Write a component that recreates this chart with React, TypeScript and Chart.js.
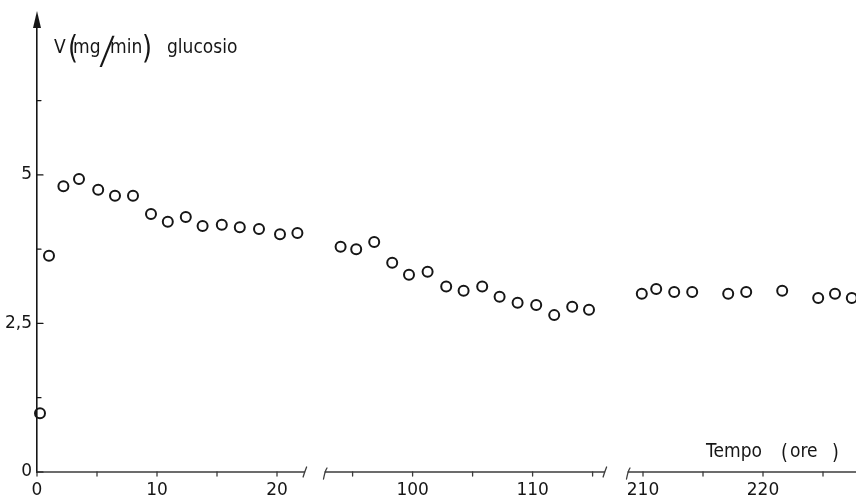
import React, { useEffect, useRef } from 'react';
import { Chart, registerables } from 'chart.js';

Chart.register(...registerables);

// ---- data (time in hours, glucose rate in mg/min) ----
const earlyHours = [0.25, 1.0, 2.2, 3.5, 5.1, 6.5, 8.0, 9.5, 10.9, 12.4, 13.8, 15.4, 16.9, 18.5, 20.25, 21.7];
const earlyValues = [0.99, 3.64, 4.81, 4.93, 4.75, 4.65, 4.65, 4.34, 4.21, 4.29, 4.14, 4.16, 4.12, 4.09, 4.0, 4.02];

const midHours = [94.0, 95.3, 96.8, 98.3, 99.7, 101.25, 102.8, 104.25, 105.8, 107.25, 108.75, 110.3, 111.8, 113.3, 114.7];
const midValues = [3.79, 3.75, 3.87, 3.52, 3.32, 3.37, 3.12, 3.05, 3.12, 2.95, 2.85, 2.81, 2.64, 2.78, 2.73];

const lateHours = [209.9, 211.1, 212.6, 214.1, 217.1, 218.6, 221.6, 224.6, 226.0, 227.4];
const lateValues = [3.0, 3.08, 3.03, 3.03, 3.0, 3.03, 3.05, 2.93, 3.0, 2.93];

// ---- axis ticks ----
const xTickLabels = [0, 10, 20, 100, 110, 210, 220];
const xMinorTicks = [5, 15, 95, 105, 115, 215, 225];
const yTickLabels = [0, 2.5, 5];
const yMinorTicks = [1.25, 3.75, 6.25];

// broken time axis: each piece of real time and where it starts on the compressed axis
const axisSegments = [
  { from: 0, to: 22.3, offset: 0 },
  { from: 92.7, to: 116, offset: 24 },
  { from: 208.75, to: 227.75, offset: 49.25 },
];
const xMax = 68.25;
const yMax = 7.64;

const compress = (t: number) => {
  for (const s of axisSegments) {
    if (t >= s.from - 1e-9 && t <= s.to + 1e-9) return s.offset + (t - s.from);
  }
  return NaN;
};
const decompress = (c: number) => {
  for (const s of axisSegments) {
    const len = s.to - s.from;
    if (c >= s.offset - 1e-6 && c <= s.offset + len + 1e-6) return s.from + (c - s.offset);
  }
  return NaN;
};

const FONT = '"DejaVu Sans", sans-serif';
const INK = '#161616';

const toPoints = (hours: number[], values: number[]) =>
  hours.map((h, i) => ({ x: compress(h), y: values[i] }));

const axisPlugin = {
  id: 'brokenAxes',
  afterDraw(chart: any) {
    const { ctx, chartArea, scales } = chart;
    const x = scales.x;
    const y = scales.y;
    const y0 = y.getPixelForValue(0);
    const left = chartArea.left;
    const top = chartArea.top;
    ctx.save();
    ctx.lineCap = 'round';

    // x axis pieces with break marks
    ctx.strokeStyle = '#3c3c3c';
    ctx.lineWidth = 1.3;
    axisSegments.forEach((s, i) => {
      const a = x.getPixelForValue(s.offset);
      const b = x.getPixelForValue(s.offset + (s.to - s.from));
      ctx.beginPath();
      ctx.moveTo(a, y0);
      ctx.lineTo(b, y0);
      ctx.stroke();
      if (i < axisSegments.length - 1) {
        ctx.beginPath();
        ctx.moveTo(b - 1.5, y0 + 5);
        ctx.quadraticCurveTo(b, y0, b + 2, y0 - 5);
        ctx.stroke();
      }
      if (i > 0) {
        ctx.beginPath();
        ctx.moveTo(a - 1.5, y0 + 7);
        ctx.quadraticCurveTo(a, y0 - 1, a + 2, y0 - 4);
        ctx.stroke();
      }
    });
    [...xTickLabels, ...xMinorTicks].forEach((t) => {
      const px = x.getPixelForValue(compress(t));
      ctx.beginPath();
      ctx.moveTo(px, y0);
      ctx.lineTo(px, y0 + 4);
      ctx.stroke();
    });

    // y ticks (inside)
    ctx.strokeStyle = INK;
    ctx.lineWidth = 1.2;
    [...yTickLabels, ...yMinorTicks].forEach((v) => {
      const py = y.getPixelForValue(v);
      ctx.beginPath();
      ctx.moveTo(left, py);
      ctx.lineTo(left + (yTickLabels.includes(v) ? 6 : 4), py);
      ctx.stroke();
    });

    // arrow head on y axis
    ctx.fillStyle = INK;
    ctx.beginPath();
    ctx.moveTo(left, top - 7);
    ctx.lineTo(left - 4, top + 10);
    ctx.lineTo(left + 4, top + 10);
    ctx.closePath();
    ctx.fill();

    // axis titles (slightly condensed lettering)
    ctx.fillStyle = INK;
    ctx.textBaseline = 'alphabetic';
    ctx.textAlign = 'left';
    const drawAt = (parts: { t: string; font: string; x: number; base: number; sx?: number }[]) => {
      parts.forEach((p) => {
        const sx = p.sx ?? 0.9;
        ctx.save();
        ctx.translate(p.x, p.base);
        ctx.scale(sx, 1);
        ctx.font = p.font;
        ctx.fillText(p.t, 0, 0);
        ctx.restore();
      });
    };
    const f19 = `19px ${FONT}`;
    const paren = `32px ${FONT}`;
    const thinSlash = '200 36px Inter, "Liberation Sans", sans-serif';
    drawAt([
      { t: 'V', font: f19, x: 54, base: 53 },
      { t: '(', font: paren, x: 68, base: 58, sx: 0.8 },
      { t: 'mg', font: f19, x: 73, base: 53 },
      { t: '/', font: thinSlash, x: 98, base: 63, sx: 1.5 },
      { t: 'min', font: f19, x: 110, base: 53 },
      { t: ')', font: paren, x: 142, base: 58, sx: 0.8 },
      { t: 'glucosio', font: f19, x: 167, base: 53 },
      { t: 'Tempo', font: f19, x: 706, base: 457 },
      { t: '(', font: `22px ${FONT}`, x: 781, base: 459, sx: 0.8 },
      { t: 'ore', font: f19, x: 790, base: 457 },
      { t: ')', font: `22px ${FONT}`, x: 832, base: 459, sx: 0.8 },
    ]);
    ctx.restore();
  },
};

export default function App() {
  const canvasRef = useRef<HTMLCanvasElement | null>(null);

  useEffect(() => {
    document.body.style.margin = '0';
    const canvas = canvasRef.current;
    if (!canvas) return;
    const pointStyle = {
      pointStyle: 'circle' as const,
      pointRadius: 5,
      pointHoverRadius: 5,
      pointBorderWidth: 2,
      pointBorderColor: INK,
      pointBackgroundColor: 'rgba(255,255,255,0)',
      showLine: false,
      clip: false as const,
    };
    const chart = new Chart(canvas, {
      type: 'scatter',
      data: {
        datasets: [
          { label: 'early', data: toPoints(earlyHours, earlyValues), ...pointStyle },
          { label: 'mid', data: toPoints(midHours, midValues), ...pointStyle },
          { label: 'late', data: toPoints(lateHours, lateValues), ...pointStyle },
        ],
      },
      options: {
        responsive: false,
        animation: false,
        layout: { autoPadding: false, padding: { top: 18, right: 0, left: 0, bottom: 0 } },
        plugins: {
          legend: { display: false },
          tooltip: { enabled: false },
          title: { display: false },
        },
        scales: {
          x: {
            type: 'linear',
            min: 0,
            max: xMax,
            grid: { display: false, drawTicks: false },
            border: { display: false },
            afterBuildTicks: (scale: any) => {
              scale.ticks = xTickLabels.map((t) => ({ value: compress(t) }));
            },
            afterFit: (scale: any) => {
              scale.height = 29;
              scale.paddingLeft = 0;
              scale.paddingRight = 0;
            },
            ticks: {
              autoSkip: false,
              maxRotation: 0,
              padding: 8,
              color: INK,
              font: { family: FONT, size: 17 },
              callback: (value: any) => String(Math.round(decompress(Number(value)))),
            },
          },
          y: {
            type: 'linear',
            min: 0,
            max: yMax,
            grid: { display: false, drawTicks: false },
            border: { display: true, color: INK, width: 1.6 },
            afterBuildTicks: (scale: any) => {
              scale.ticks = yTickLabels.map((v) => ({ value: v }));
            },
            afterFit: (scale: any) => {
              scale.width = 37;
              scale.paddingTop = 0;
              scale.paddingBottom = 0;
            },
            ticks: {
              padding: 5,
              color: INK,
              font: { family: FONT, size: 17 },
              callback: (value: any) => (Number(value) === 2.5 ? '2,5' : String(value)),
            },
          },
        },
      },
      plugins: [axisPlugin],
    });
    return () => chart.destroy();
  }, []);

  return (
    <div style={{ width: 856, height: 501, background: '#fff' }}>
      <canvas ref={canvasRef} width={856} height={501} style={{ display: 'block' }} />
    </div>
  );
}
